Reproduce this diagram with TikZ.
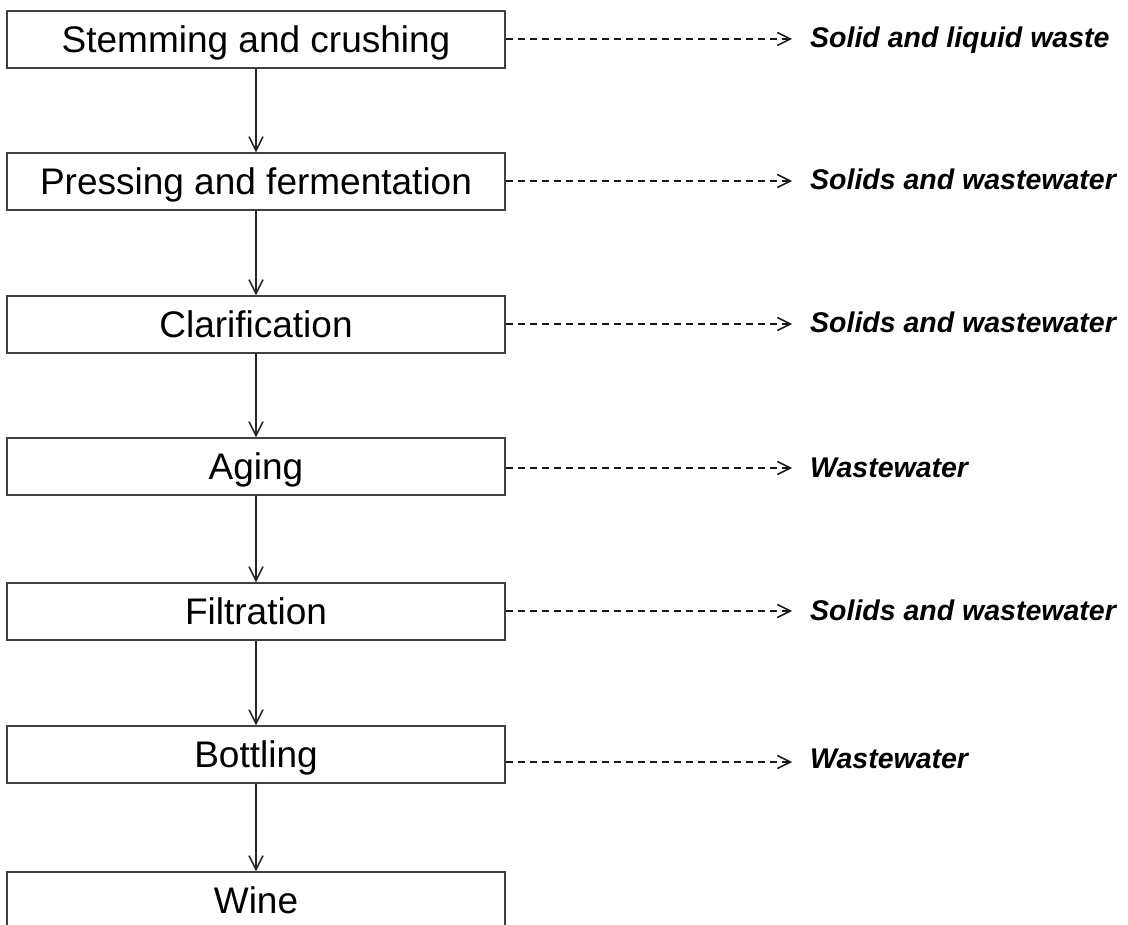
\documentclass[tikz,border=0pt]{standalone}
\usepackage{fontspec}
\setmainfont{Liberation Sans}
\usetikzlibrary{arrows.meta}
\begin{document}
\begin{tikzpicture}[x=1pt,y=-1pt,
  stepbox/.style={draw=black!75, line width=1.4pt, fill=white, minimum width=498pt, minimum height=57pt, inner sep=0pt, text height=26pt, text depth=0pt, font=\fontsize{37}{40}\selectfont},
  flow/.style={draw=black!85, line width=1.5pt, -{Straight Barb[length=14pt,width=14pt,line width=1.5pt]}},
  waste/.style={draw=black!90, line width=1.6pt, dash pattern=on 7pt off 5pt, -{Straight Barb[length=13pt,width=13pt,line width=1.5pt]}},
  lbl/.style={anchor=base west, inner sep=0pt, font=\fontsize{28.5}{32}\selectfont\bfseries\itshape}]
\useasboundingbox (0,0) rectangle (1128,925);
\fill[white] (0,0) rectangle (1128,925);
% process steps
\node[stepbox] (b1) at (256,39.5) {Stemming and crushing};
\node[stepbox] (b2) at (256,181.5) {Pressing and fermentation};
\node[stepbox] (b3) at (256,324.5) {Clarification};
\node[stepbox] (b4) at (256,466.5) {Aging};
\node[stepbox] (b5) at (256,611.5) {Filtration};
\node[stepbox] (b6) at (256,754.5) {Bottling};
\node[stepbox] (b7) at (256,900.5) {Wine};
% main flow
\draw[flow] (b1.south) -- (b2.north);
\draw[flow] (b2.south) -- (b3.north);
\draw[flow] (b3.south) -- (b4.north);
\draw[flow] (b4.south) -- (b5.north);
\draw[flow] (b5.south) -- (b6.north);
\draw[flow] (b6.south) -- (b7.north);
% waste streams
\coordinate (t1) at (792,39);
\coordinate (t2) at (792,181);
\coordinate (t3) at (792,324);
\coordinate (t4) at (792,468);
\coordinate (t5) at (792,611);
\coordinate (t6) at (792,762);
\node[lbl] (w1) at (810,48) {Solid and liquid waste};
\node[lbl] (w2) at (810,190) {Solids and wastewater};
\node[lbl] (w3) at (810,333) {Solids and wastewater};
\node[lbl] (w4) at (810,477) {Wastewater};
\node[lbl] (w5) at (810,620) {Solids and wastewater};
\node[lbl] (w6) at (810,768) {Wastewater};
\draw[waste] (b1.east |- t1) -- (t1);
\draw[waste] (b2.east |- t2) -- (t2);
\draw[waste] (b3.east |- t3) -- (t3);
\draw[waste] (b4.east |- t4) -- (t4);
\draw[waste] (b5.east |- t5) -- (t5);
\draw[waste] (b6.east |- t6) -- (t6);
\end{tikzpicture}
\end{document}
